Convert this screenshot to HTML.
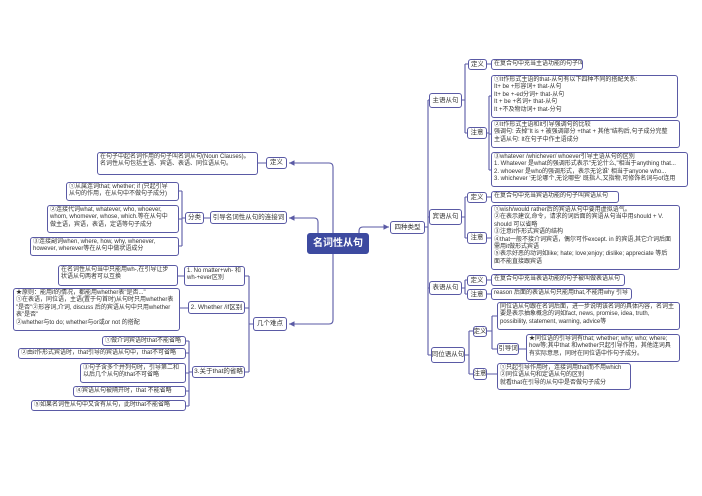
<!DOCTYPE html>
<html><head><meta charset="utf-8"><style>
html,body{margin:0;padding:0;background:#fff;}
body{width:702px;height:496px;position:relative;overflow:hidden;font-family:"Liberation Sans","Noto Sans CJK SC",sans-serif;color:#333;}
.b{position:absolute;border:1.2px solid #5a5aa5;border-radius:3px;font-size:6px;line-height:7.4px;padding:1px 2px;background:#fff;white-space:nowrap;overflow:hidden;box-sizing:border-box;}
.n{text-align:center;display:flex;align-items:center;justify-content:center;padding:0;font-size:6.5px;}
svg{position:absolute;left:0;top:0;}
</style></head><body>
<svg width="702" height="496" fill="none" stroke="#5a5aa5" stroke-width="1.1">
<defs><marker id="a" markerWidth="6" markerHeight="6" refX="5" refY="3" orient="auto"><path d="M0,0.5 L5,3 L0,5.5z" fill="#5a5aa5" stroke="none"/></marker></defs>
<!-- center to right -->
<path d="M359,233 L359,231 Q359,227 363,227 L389,227" marker-end="url(#a)"/>
<!-- center left -->
<path d="M333,233 L333,167 Q333,163 329,163 L289,163" marker-end="url(#a)"/>
<path d="M318,233 L318,222 Q318,218 314,218 L289,218" marker-end="url(#a)"/>
<path d="M333,254 L333,320 Q333,324 329,324 L289,324" marker-end="url(#a)"/>
<!-- four types spine -->
<path d="M425,227 L428,227 M428,100 L428,355 M428,100 L430,100 M428,217 L430,217 M428,288 L430,288 M428,355 L431,355"/>
<!-- 主语 -->
<path d="M462,100 L465,100 M465,64 L465,133 M465,64 L468,64 M465,133 L467,133 M487,64 L491,64 M487,133 L489,133 M489,96 L489,170 M489,96 L491,96 M489,134 L491,134 M489,170 L491,170"/>
<!-- 宾语 -->
<path d="M462,217 L465,217 M465,197 L465,238 M465,197 L467,197 M465,238 L467,238 M487,197 L491,197 M487,238 L491,238"/>
<!-- 表语 -->
<path d="M462,288 L465,288 M465,280 L465,294 M465,280 L467,280 M465,294 L467,294 M487,280 L491,280 M487,294 L491,294"/>
<!-- 同位语 -->
<path d="M465,355 L469,355 M469,331 L469,374 M469,331 L473,331 M469,374 L473,374 M487,331 L492,331 M492,316 L492,349 M492,316 L497,316 M492,349 L497,349 M518,349 L526,349 M487,374 L497,374"/>
<!-- left -->
<path d="M266,163 L258,163 M210,218 L204,218 M185,218 L182,218 M182,191 L182,246 M182,191 L179,191 M182,219 L179,219 M182,246 L179,246"/>
<path d="M253,324 L249,324 M249,276 L249,372 M249,276 L245,276 M249,308 L245,308 M249,372 L245,372 M184,276 L178,276 M188,308 L180,308 M192,372 L189,372 M189,341 L189,406 M189,341 L186,341 M189,353 L186,353 M189,373 L186,373 M189,391 L186,391 M189,406 L186,406"/>
</svg>

<div class="b n" style="left:307px;top:233px;width:62px;height:21px;background:#3d4aa0;border-color:#3d4aa0;color:#fff;font-size:10px;font-weight:bold;">名词性从句</div>
<div class="b n" style="left:390px;top:221px;width:35px;height:13px;">四种类型</div>

<div class="b n" style="left:429px;top:93px;width:33px;height:15px;">主语从句</div>
<div class="b n" style="left:468px;top:59px;width:19px;height:11px;">定义</div>
<div class="b" style="left:491px;top:59px;width:92px;height:11px;">在复合句中充当主语功能的句子叫主语从句</div>
<div class="b n" style="left:467px;top:127px;width:20px;height:12px;">注意</div>
<div class="b" style="left:491px;top:75px;width:187px;height:43px;">①It作形式主语的that-从句有以下四种不同的搭配关系:<br>It+ be +形容词+ that-从句<br>It+ be +-ed分词+ that-从句<br>It + be +名词+ that-从句<br>It +不及物动词+ that-分句</div>
<div class="b" style="left:491px;top:120px;width:189px;height:28px;">②It作形式主语和It引导强调句的比较<br>强调句: 去掉"It is + 被强调部分 +that + 其他"结构后,句子成分完整<br>主语从句: It在句子中作主语成分</div>
<div class="b" style="left:491px;top:152px;width:197px;height:35px;">③whatever /whichever/ whoever引导主语从句的区别<br>1. Whatever 是what的强调形式表示"无论什么,"相当于anything that...<br>2. whoever 是who的强调形式，表示无论谁' 相当于anyone who...<br>3. whichever '无论哪个,无论哪些' 既指人,又指物,可修饰名词与of连用</div>

<div class="b n" style="left:429px;top:209px;width:33px;height:16px;">宾语从句</div>
<div class="b n" style="left:467px;top:192px;width:20px;height:11px;">定义</div>
<div class="b" style="left:491px;top:191px;width:128px;height:12px;">在复合句中充当宾语功能的句子叫宾语从句</div>
<div class="b n" style="left:467px;top:232px;width:20px;height:12px;">注意</div>
<div class="b" style="left:491px;top:205px;width:189px;height:65px;">①wish/would rather后的宾语从句中要用虚拟语气。<br>②在表示建议,命令，请求的词后面的宾语从句当中用should + V.<br>should 可以省略<br>③注意it作形式宾语的结构<br>④that一般不接介词宾语，偶尔可作except. in 的宾语,其它介词后面<br>需用it做形式宾语<br>⑤表示好恶的动词如like; hate; love;enjoy; dislike; appreciate 等后<br>面不能直接跟宾语</div>

<div class="b n" style="left:429px;top:281px;width:33px;height:14px;">表语从句</div>
<div class="b n" style="left:467px;top:275px;width:20px;height:11px;">定义</div>
<div class="b" style="left:491px;top:274px;width:134px;height:12px;">在复合句中充当表语功能的句子被叫做表语从句</div>
<div class="b n" style="left:467px;top:289px;width:20px;height:11px;">注意</div>
<div class="b" style="left:491px;top:288px;width:141px;height:12px;">reason 后面的表语从句只能用that,不能用why 引导</div>

<div class="b n" style="left:431px;top:347px;width:34px;height:16px;">同位语从句</div>
<div class="b n" style="left:473px;top:326px;width:14px;height:11px;">定义</div>
<div class="b" style="left:497px;top:302px;width:183px;height:28px;">同位语从句跟在名词后面，进一步说明该名词的具体内容，名词主<br>要是表示抽象概念的词如fact, news, promise, idea, truth,<br>possibility, statement, warning, advice等</div>
<div class="b n" style="left:497px;top:343px;width:22px;height:12px;">引导词</div>
<div class="b" style="left:526px;top:334px;width:154px;height:28px;">★同位语的引导词有that; whether; why; who; where;<br>how等;其中that 和whether只起引导作用，其他连词具<br>有实际意思，同时在同位语中作句子成分。</div>
<div class="b n" style="left:473px;top:368px;width:14px;height:12px;">注意</div>
<div class="b" style="left:497px;top:363px;width:134px;height:27px;">①只起引导作用时，连接词用that而不用which<br>②同位语从句和定语从句的区别<br>就看that在引导的从句中是否做句子成分</div>

<div class="b n" style="left:266px;top:157px;width:21px;height:12px;">定义</div>
<div class="b" style="left:97px;top:152px;width:161px;height:23px;">在句子中起名词作用的句子叫名词从句(Noun Clauses)。<br>名词性从句包括主语、宾语、表语、同位语从句。</div>
<div class="b n" style="left:210px;top:211px;width:77px;height:13px;">引导名词性从句的连接词</div>
<div class="b n" style="left:185px;top:212px;width:19px;height:12px;">分类</div>
<div class="b" style="left:66px;top:182px;width:113px;height:19px;">①从属连词that; whether; if (只起引导<br>从句的作用，在从句中不做句子成分)</div>
<div class="b" style="left:47px;top:205px;width:132px;height:28px;">②连接代词what, whatever, who, whoever,<br>whom, whomever, whose, which.等在从句中<br>做主语，宾语，表语，定语等句子成分</div>
<div class="b" style="left:30px;top:237px;width:149px;height:19px;">③连接副词when, where, how, why, whenever,<br>however, wherever等在从句中做状语成分</div>

<div class="b n" style="left:253px;top:317px;width:34px;height:14px;">几个难点</div>
<div class="b" style="left:184px;top:266px;width:61px;height:20px;">1. No matter+wh- 和<br>wh-+ever区别</div>
<div class="b" style="left:58px;top:265px;width:120px;height:21px;">在名词性从句当中只能用wh-,在引导让步<br>状语从句两者可以互换</div>
<div class="b n" style="left:188px;top:301px;width:57px;height:13px;">2. Whether /if区别</div>
<div class="b" style="left:13px;top:288px;width:167px;height:43px;">★原则：能用if的情况，都能用whether表"是否..."<br>①在表语，同位语，主语(置于句首时)从句时只用whether表<br>"是否"②形容词,介词, discuss 后的宾语从句中只用whether<br>表"是否"<br>②whether与to do; whether与or或or not 的搭配</div>
<div class="b n" style="left:192px;top:366px;width:53px;height:12px;">3.关于that的省略</div>
<div class="b" style="left:102px;top:336px;width:84px;height:10px;line-height:7px;">①做介词宾语时that不能省略</div>
<div class="b" style="left:18px;top:348px;width:168px;height:11px;">②由it作形式宾语时，that引导的宾语从句中，that不可省略</div>
<div class="b" style="left:80px;top:363px;width:106px;height:20px;">③句子含多个并列句时，引导第二和<br>以后几个从句的that不可省略</div>
<div class="b" style="left:73px;top:386px;width:113px;height:11px;">④宾语从句被隔开时，that 不能省略</div>
<div class="b" style="left:31px;top:400px;width:155px;height:11px;">⑤如果名词性从句中又含有从句，此时that不能省略</div>
</body></html>
